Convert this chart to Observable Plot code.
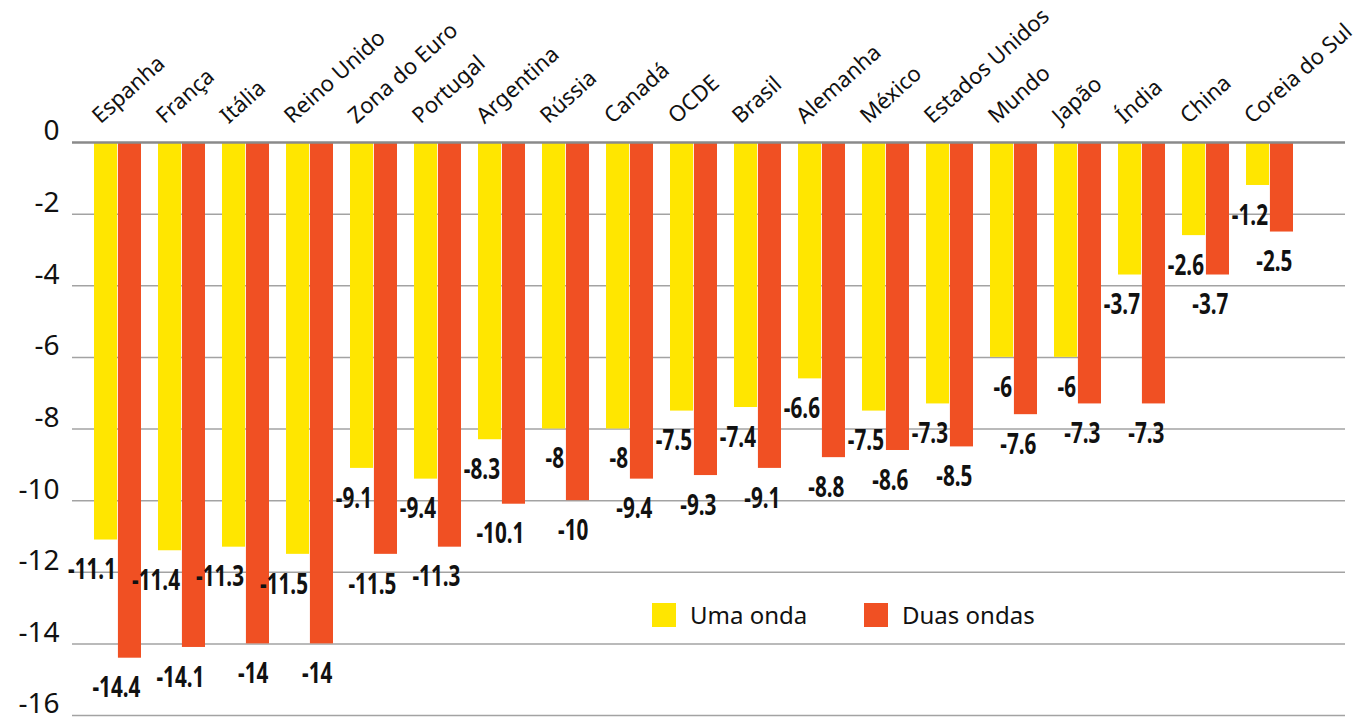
<!DOCTYPE html>
<html><head><meta charset="utf-8">
<script src="https://cdn.jsdelivr.net/npm/d3@7"></script>
<script src="https://cdn.jsdelivr.net/npm/@observablehq/plot@0.6"></script>
<style>
body{margin:0;background:#fff;}
#wrap{position:relative;width:1370px;height:720px;}
.lg{position:absolute;top:603px;display:flex;align-items:center;font-family:"Noto Sans",sans-serif;font-size:24px;color:#111;line-height:24px;}
.lg span.sw{display:inline-block;width:24px;height:24px;margin-right:14px;}
</style></head>
<body><div id="wrap"></div>
<script>
const countries = ["Espanha","França","Itália","Reino Unido","Zona do Euro","Portugal","Argentina","Rússia","Canadá","OCDE","Brasil","Alemanha","México","Estados Unidos","Mundo","Japão","Índia","China","Coreia do Sul"];
const umaOnda   = [-11.1,-11.4,-11.3,-11.5,-9.1,-9.4,-8.3,-8,-8,-7.5,-7.4,-6.6,-7.5,-7.3,-6,-6,-3.7,-2.6,-1.2];
const duasOndas = [-14.4,-14.1,-14,-14,-11.5,-11.3,-10.1,-10,-9.4,-9.3,-9.1,-8.8,-8.6,-8.5,-7.6,-7.3,-7.3,-3.7,-2.5];
const yTicks = [0,-2,-4,-6,-8,-10,-12,-14,-16];
const seriesNames = ["Uma onda","Duas ondas"];
const seriesColors = ["#FFE600","#F05023"];

const data = countries.map((c,i)=>({country:c, uma:umaOnda[i], duas:duasOndas[i]}));

const W = 1370, H = 720, mL = 72, mR = 25, mT = 142, mB = 5, inL = 12, inR = 42;
const pIn = 0.27, pOut = 0.135;
const step = (W - mL - mR - inL - inR) / (countries.length - pIn + 2*pOut);
const bw = step * (1 - pIn);
const half = bw/2 + 0.5;

const plot = Plot.plot({
  width: W, height: H,
  marginLeft: mL, marginRight: mR, marginTop: mT, marginBottom: mB,
  style: {fontFamily: '"Noto Sans",sans-serif', background: "#fff", color: "#111"},
  x: {domain: countries, paddingInner: pIn, paddingOuter: pOut, insetLeft: inL, insetRight: inR, axis: null},
  y: {domain: [-16, 0], axis: null},
  marks: [
    Plot.ruleY(yTicks.filter(d=>d!==0), {stroke: "#a3a3a3", strokeWidth: 1.5}),
    Plot.barY(data, {x: "country", y1: 0, y2: "uma", fill: seriesColors[0], insetRight: half}),
    Plot.barY(data, {x: "country", y1: 0, y2: "duas", fill: seriesColors[1], insetLeft: half}),
    Plot.ruleY([0], {stroke: "#8a8a8a", strokeWidth: 2.5}),
    Plot.axisY({ticks: yTicks, tickSize: 0, tickPadding: 13, fontSize: 28, tickFormat: d => String(d), dy: -11, label: null, fill: "#111"}),
    Plot.text(data, {x: "country", y: "uma", text: d => String(d.uma), textAnchor: "end", dx: -2, dy: 30,
      fontWeight: "bold", fontSize: 29, fill: "#111"}),
    Plot.text(data, {x: "country", y: "duas", text: d => String(d.duas), textAnchor: "end", dx: bw/2 - 1, dy: 30,
      fontWeight: "bold", fontSize: 29, fill: "#111"}),
    Plot.text(countries, {x: d => d, frameAnchor: "top", text: d => d, rotate: -42, textAnchor: "start", lineAnchor: "bottom",
      dx: -bw/2 + 6, dy: -18, fontSize: 22, fill: "#111"})
  ]
});

const wrap = document.getElementById("wrap");
wrap.appendChild(plot);

// condense the bold value labels (the reference uses a condensed bold face)
const vt = plot.querySelectorAll('g[font-weight="bold"] text');
let refT = null;
vt.forEach(t => { if (t.textContent === "-14.4") refT = t; });
const k = refT ? 48 / refT.getComputedTextLength() : 0.66;
vt.forEach(t => {
  const L = t.getComputedTextLength();
  t.setAttribute("textLength", (L * k).toFixed(2));
  t.setAttribute("lengthAdjust", "spacingAndGlyphs");
});

const lgPos = [652, 864];
seriesNames.forEach((n,i)=>{
  const d = document.createElement("div");
  d.className = "lg";
  d.style.left = lgPos[i] + "px";
  d.innerHTML = `<span class="sw" style="background:${seriesColors[i]}"></span><span>${n}</span>`;
  wrap.appendChild(d);
});
</script>
</body></html>
